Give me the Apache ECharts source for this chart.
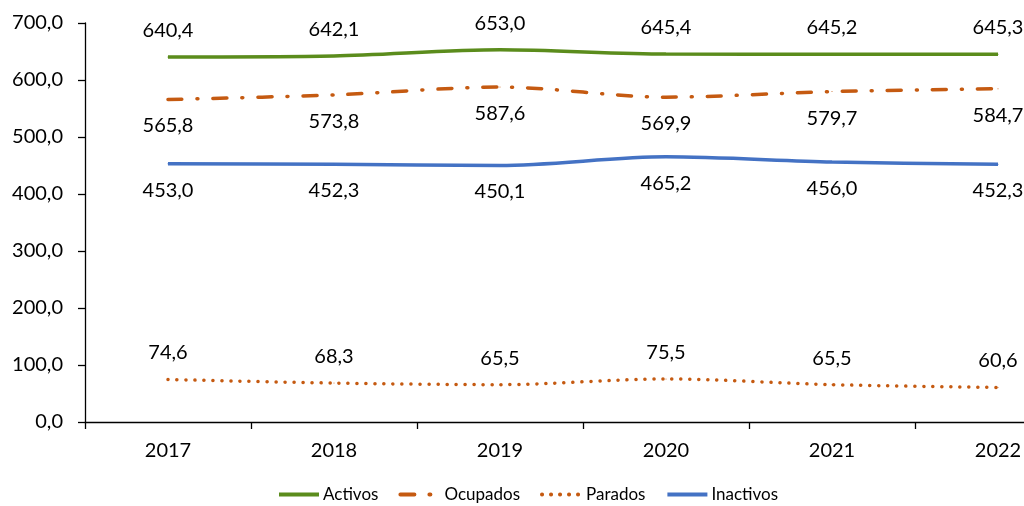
<!DOCTYPE html>
<html>
<head>
<meta charset="utf-8">
<script src="https://cdn.jsdelivr.net/npm/echarts@6/dist/echarts.min.js"></script>
<style>
  html, body { margin: 0; padding: 0; background: #fff; overflow: hidden; }
  #chart { width: 1081px; height: 506px; }
</style>
</head>
<body>
<div id="chart"></div>
<script>
const years = ['2017', '2018', '2019', '2020', '2021', '2022'];
const activos = [640.4, 642.1, 653.0, 645.4, 645.2, 645.3];
const ocupados = [565.8, 573.8, 587.6, 569.9, 579.7, 584.7];
const parados = [74.6, 68.3, 65.5, 75.5, 65.5, 60.6];
const inactivos = [453.0, 452.3, 450.1, 465.2, 456.0, 452.3];

const FONT = 'Lato';
const fmt = v => v.toFixed(1).replace('.', ',');

// the plot runs past the right edge of the picture, like the original
const chart = echarts.init(document.getElementById('chart'));

function serie(name, data, color, lineType, pos, cap) {
  return {
    name: name,
    type: 'line',
    data: data,
    smooth: 0.3,
    symbol: 'circle',
    symbolSize: 1,
    showSymbol: true,
    lineStyle: { color: color, width: 3.5, type: lineType, cap: cap || 'butt' },
    itemStyle: { color: color },
    label: {
      show: true,
      position: pos,
      distance: 16,
      color: '#000',
      fontFamily: FONT,
      fontSize: 20,
      formatter: p => fmt(p.value)
    }
  };
}

const option = {
  animation: false,
  textStyle: { fontFamily: FONT },
  grid: { left: 85, right: 0, top: 23, height: 399, containLabel: false },
  legend: {
    top: 486,
    left: 277,
    padding: 0,
    itemWidth: 40,
    itemHeight: 10,
    itemGap: 20,
    itemStyle: { opacity: 0 },
    lineStyle: { width: 4 },
    textStyle: { fontFamily: FONT, fontSize: 17, color: '#000', padding: [0, 0, 0, -1] },
    data: ['Activos', 'Ocupados', 'Parados', 'Inactivos']
  },
  xAxis: {
    type: 'category',
    data: years,
    boundaryGap: true,
    axisLine: { lineStyle: { color: '#000', width: 1.3 } },
    axisTick: { show: true, length: 7, lineStyle: { color: '#000', width: 1.3 } },
    axisLabel: { color: '#000', fontFamily: FONT, fontSize: 20, margin: 19 }
  },
  yAxis: {
    type: 'value',
    min: 0,
    max: 700,
    interval: 100,
    axisLine: { show: true, lineStyle: { color: '#000', width: 1.3 } },
    axisTick: { show: true, length: 7, lineStyle: { color: '#000', width: 1.3 } },
    splitLine: { show: false },
    axisLabel: { color: '#000', fontFamily: FONT, fontSize: 20, margin: 22, formatter: v => fmt(v) }
  },
  series: [
    serie('Activos', activos, '#5b8c1c', 'solid', 'top'),
    serie('Ocupados', ocupados, '#c55a11', [14, 15, 1, 15], 'bottom', 'round'),
    serie('Parados', parados, '#c55a11', [0.1, 8.9], 'top', 'round'),
    serie('Inactivos', inactivos, '#4472c4', 'solid', 'bottom')
  ]
};

chart.setOption(option);
</script>
</body>
</html>
